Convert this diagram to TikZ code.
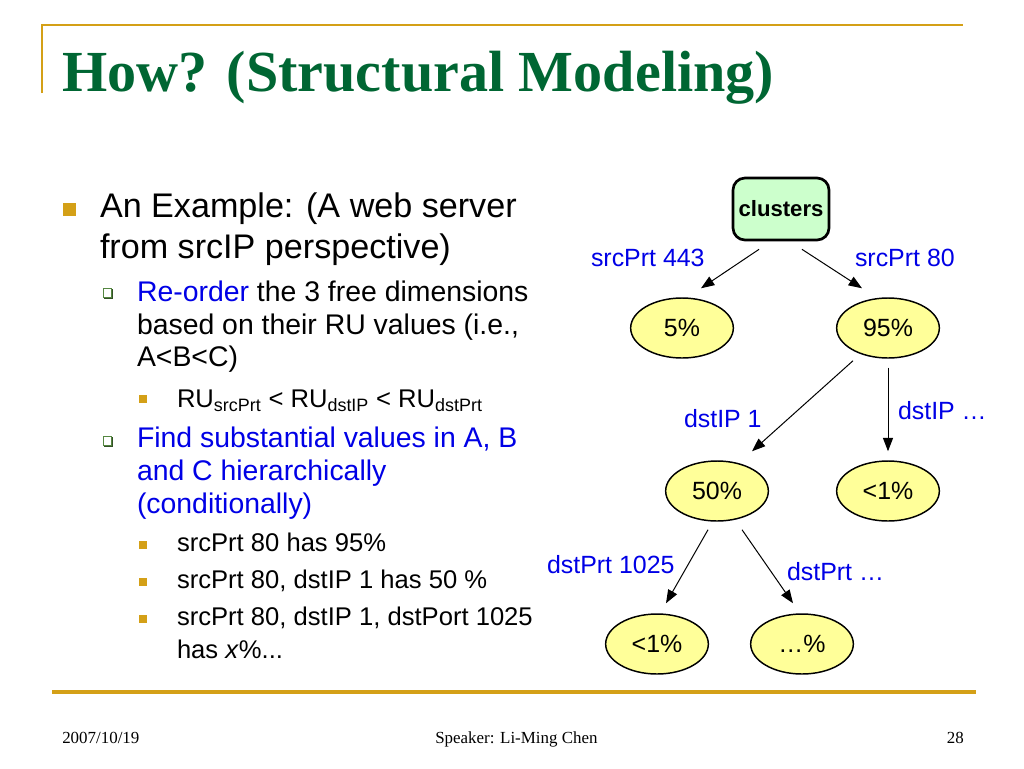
\documentclass[tikz,border=0pt]{standalone}
\usepackage{fontspec}
\setmainfont{Liberation Sans}
\newfontfamily\seriffont{Liberation Serif}
\usetikzlibrary{arrows.meta,shapes.geometric}
\definecolor{gold}{RGB}{212,160,23}
\definecolor{titlegreen}{RGB}{0,102,51}
\definecolor{txtblue}{RGB}{0,0,230}
\definecolor{boxgreen}{RGB}{204,255,204}
\definecolor{ellyellow}{RGB}{255,255,153}
\definecolor{subgreen}{RGB}{85,135,65}
\tikzset{
  txt/.style={anchor=base west, inner sep=0pt, outer sep=0pt},
  lone/.style={txt, font=\fontsize{25.6}{30}\selectfont},
  ltwo/.style={txt, font=\fontsize{21.3}{26}\selectfont},
  lthree/.style={txt, font=\fontsize{19.2}{23}\selectfont},
  lbl/.style={txt, text=txtblue, font=\fontsize{18.7}{22}\selectfont},
  foot/.style={inner sep=0pt, font=\seriffont\fontsize{12.7}{15}\selectfont},
  gbullet/.style={rectangle, fill=gold, inner sep=0pt, minimum size=#1},
  gbullet/.default=6pt,
  hbox/.style={rectangle, draw=subgreen, line width=0.9pt, fill=white, inner sep=0pt, minimum size=6.5pt,
    preaction={draw=subgreen!60!black, line width=0.9pt, transform canvas={shift={(0.7pt,-0.7pt)}}}},
  ell/.style={ellipse, draw, line width=1.1pt, fill=ellyellow, inner sep=0pt,
    minimum width=77pt, minimum height=45pt, font=\fontsize{18.7}{22}\selectfont},
  clbox/.style={rectangle, rounded corners=9pt, draw, line width=2pt, fill=boxgreen,
    minimum width=72pt, minimum height=46.5pt, inner sep=0pt, font=\bfseries\fontsize{16.6}{20}\selectfont},
  arr/.style={line width=0.75pt, -{Triangle[length=10pt,width=7.5pt]}},
  rule/.style={gold, line width=2pt}
}
\begin{document}
\begin{tikzpicture}[x=0.75pt,y=-0.75pt]
\useasboundingbox (0,0) rectangle (1024,768);
\fill[white] (0,0) rectangle (1024,768);
% frame rules
\coordinate (tl) at (42,25);
\coordinate (tr) at (963,25);
\coordinate (vl) at (42,93);
\coordinate (bl) at (52,692);
\coordinate (br) at (976,692);
\draw[rule] (vl) -- (tl) -- (tr);
\draw[rule, line width=2.4pt] (bl) -- (br);
% title
\node[txt, text=titlegreen, font=\seriffont\bfseries\fontsize{43.6}{50}\selectfont] (title) at (62,91) {How? (Structural Modeling)};
% left bullets
\node[gbullet=9.75pt] (b1) at (69.5,209.5) {};
\node[lone] (t1a) at (100,217) {An Example: (A web server};
\node[lone] (t1b) at (100,258) {from srcIP perspective)};
\node[hbox] (b2) at (107.5,293) {};
\node[ltwo] (t2a) at (137,301) {{\color{txtblue}Re-order} the 3 free dimensions};
\node[ltwo] (t2b) at (137,334) {based on their RU values (i.e.,};
\node[ltwo] (t2c) at (137,366) {A<B<C)};
\node[gbullet] (b3) at (142.5,399) {};
\node[lthree] (t3) at (177,407) {RU\textsubscript{srcPrt} < RU\textsubscript{dstIP} < RU\textsubscript{dstPrt}};
\node[hbox] (b4) at (107.5,441) {};
\node[ltwo, text=txtblue] (t4a) at (137,447) {Find substantial values in A, B};
\node[ltwo, text=txtblue] (t4b) at (137,480) {and C hierarchically};
\node[ltwo, text=txtblue] (t4c) at (137,513) {(conditionally)};
\node[gbullet] (b5) at (142.5,545) {};
\node[lthree] (t5) at (177,551) {srcPrt 80 has 95\%};
\node[gbullet] (b6) at (142.5,582) {};
\node[lthree] (t6) at (177,588) {srcPrt 80, dstIP 1 has 50 \%};
\node[gbullet] (b7) at (142.5,619) {};
\node[lthree] (t7a) at (177,625) {srcPrt 80, dstIP 1, dstPort 1025};
\node[lthree] (t7b) at (177,658) {has \textit{x}\%...};
% tree
\node[clbox] (cl) at (781,209) {clusters};
\node[ell] (p5) at (682,328) {5\%};
\node[ell] (p95) at (888,328) {95\%};
\node[ell] (p50) at (717,491) {50\%};
\node[ell] (q1) at (888,491) {<1\%};
\node[ell] (r1) at (657,644) {<1\%};
\node[ell] (r2) at (802,644) {…\%};
\draw[arr] ([shift={(-22,8)}]cl.south) -- ([shift={(19,-9)}]p5.north);
\draw[arr] ([shift={(21,8)}]cl.south) -- ([shift={(-26,-9)}]p95.north);
\draw[arr] ([shift={(-35,2)}]p95.south) -- ([shift={(35,-9)}]p50.north);
\draw[arr] ([shift={(0,9)}]p95.south) -- ([shift={(0,-9)}]q1.north);
\draw[arr] ([shift={(-9,8)}]p50.south) -- ([shift={(9,-10)}]r1.north);
\draw[arr] ([shift={(25,8)}]p50.south) -- ([shift={(-9,-10)}]r2.north);
\node[lbl] (l1) at (591,266) {srcPrt 443};
\node[lbl] (l2) at (855,266) {srcPrt 80};
\node[lbl] (l3) at (684,427) {dstIP 1};
\node[lbl] (l4) at (898,419) {dstIP …};
\node[lbl] (l5) at (547,573) {dstPrt 1025};
\node[lbl] (l6) at (787,580) {dstPrt …};
% footer
\node[foot, anchor=base west] (date) at (62,743) {2007/10/19};
\node[foot, anchor=base west] (spk) at (435,743) {Speaker: Li-Ming Chen};
\node[foot, anchor=base east] (pg) at (964,743) {28};
\end{tikzpicture}
\end{document}
